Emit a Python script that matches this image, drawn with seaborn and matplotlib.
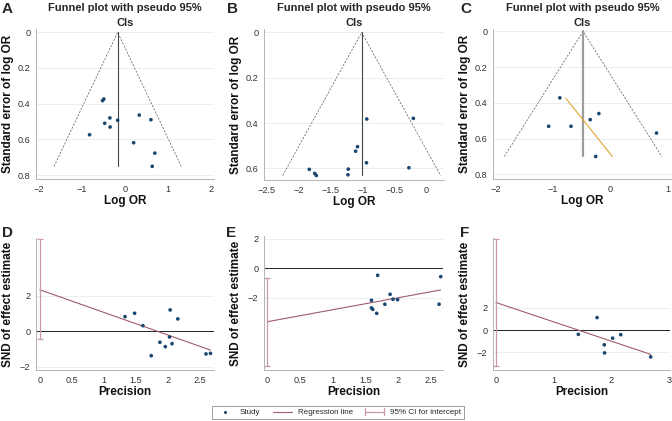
import matplotlib
matplotlib.use("Agg")
import matplotlib.pyplot as plt
import numpy as np
import seaborn as sns
from matplotlib.legend_handler import HandlerBase
from matplotlib.lines import Line2D
from matplotlib.ticker import FuncFormatter

# ---- data ----
# Funnel plots (log OR vs standard error)
a_log_or = [-0.52, -0.49, -0.35, -0.47, -0.345, -0.17, -0.82, 0.33, 0.60, 0.20, 0.69, 0.63]
a_se = [0.383, 0.374, 0.480, 0.510, 0.531, 0.493, 0.574, 0.464, 0.490, 0.619, 0.677, 0.751]
a_pooled = -0.17

b_log_or = [-0.20, -0.93, -1.075, -1.105, -0.935, -1.22, -0.27, -1.83, -1.745, -1.72, -1.225]
b_se = [0.379, 0.382, 0.504, 0.524, 0.575, 0.603, 0.597, 0.604, 0.622, 0.631, 0.628]
b_pooled = -1.01

c_log_or = [-0.885, -0.205, -0.355, -1.08, -0.69, -0.26, 0.80]
c_se = [0.372, 0.460, 0.494, 0.531, 0.531, 0.700, 0.569]
c_pooled = -0.48
c_trend_log_or = [-0.78, 0.03]
c_trend_se = [0.375, 0.70]

# Egger plots (precision vs standardised effect)
d_prec = [1.33, 1.48, 1.61, 1.74, 1.875, 1.96, 2.035, 2.025, 2.065, 2.155, 2.595, 2.665]
d_snd = [0.83, 1.02, 0.32, -1.38, -0.62, -0.87, 1.21, -0.32, -0.70, 0.70, -1.28, -1.25]
d_fit = (2.35, -1.28)
d_ci = (-0.45, 5.20)

e_prec = [1.69, 2.655, 1.88, 1.595, 1.925, 1.995, 1.80, 1.595, 1.615, 1.675, 2.63]
e_snd = [-0.48, -0.57, -1.77, -2.18, -2.11, -2.14, -2.45, -2.70, -2.80, -3.07, -2.45]
e_fit = (-3.64, 0.815)
e_ci = (-6.66, -0.68)

f_prec = [1.43, 1.755, 1.88, 1.885, 2.025, 2.165, 2.685]
f_snd = [-0.39, 1.12, -1.33, -2.06, -0.73, -0.42, -2.42]
f_fit = (2.48, -1.74)
f_ci = (-3.27, 8.24)

NAVY = "#1a476f"
REG = "#a05c6c"
CI = "#c99aa4"
AXC = "#b4b4b4"

sns.set_theme(style="white")
plt.rcParams["font.family"] = ["Liberation Sans", "DejaVu Sans"]

W, H = 672, 421
fig = plt.figure(figsize=(W / 100, H / 100), dpi=100)


def px_axes(left, top, right, bottom):
    return fig.add_axes([left / W, 1 - bottom / H, (right - left) / W, (bottom - top) / H])


fmt = FuncFormatter(lambda v, _: f"{v:g}".replace("-", "\u2212"))


def style(ax, xticks, yticks, xlim, ylim, xlabel, ylabel, width, height):
    ax.set_xlim(*xlim)
    ax.set_ylim(*ylim)
    ax.set_xticks(xticks)
    ax.set_yticks(yticks)
    ax.xaxis.set_major_formatter(fmt)
    ax.yaxis.set_major_formatter(fmt)
    for s in ["top", "right"]:
        ax.spines[s].set_visible(False)
    for s in ["left", "bottom"]:
        ax.spines[s].set_color(AXC)
        ax.spines[s].set_linewidth(0.7)
    ax.tick_params(direction="out", length=2.5, width=0.6, color=AXC,
                   labelsize=6.6, labelcolor="#333333", pad=1.5)
    ax.yaxis.grid(True, color="#e4edef", lw=0.6)
    ax.set_axisbelow(True)
    ax.set_xlabel(xlabel, fontsize=8.5, fontweight="bold", color="#111111")
    ax.set_ylabel(ylabel, fontsize=8.5, fontweight="bold", color="#111111")
    ax.xaxis.label.set_va("center")
    ax.yaxis.label.set_va("center")
    ax.xaxis.set_label_coords(0.5, -22 / height)
    ax.yaxis.set_label_coords(-28 / width, 0.5)


def funnel(ax, log_or, se, pooled, center_color="#444444", center_lw=0.8):
    se_max = max(se)
    lo = pooled - 1.96 * se_max
    hi = pooled + 1.96 * se_max
    ax.plot([lo, pooled, hi], [se_max, 0, se_max], ls=(0, (3, 2)), lw=0.5, color="#555555")
    ax.plot([pooled, pooled], [0, se_max], color=center_color, lw=center_lw)
    sns.scatterplot(x=log_or, y=se, ax=ax, color=NAVY, s=7, edgecolor="none", linewidth=0,
                    legend=False, zorder=3)
    ax.text(0.5, 1 + 13.5 / 150, "Funnel plot with pseudo 95%\nCIs", transform=ax.transAxes,
            ha="center", va="center", fontsize=8, fontweight="bold", linespacing=1.6)


def egger(ax, prec, snd, fit, ci):
    ax.axhline(0, color="#222222", lw=0.7, zorder=1)
    xs = np.array([0, max(prec)])
    ax.plot(xs, fit[0] + fit[1] * xs, color=REG, lw=0.8, zorder=2)
    mid = (ci[0] + ci[1]) / 2
    ax.errorbar([0], [mid], yerr=[[mid - ci[0]], [ci[1] - mid]], fmt="none",
                ecolor=CI, elinewidth=0.9, capsize=2.2, capthick=0.9, zorder=2)
    sns.scatterplot(x=prec, y=snd, ax=ax, color=NAVY, s=7, edgecolor="none", linewidth=0,
                    legend=False, zorder=3)


# ---- top row: funnel plots ----
ax_a = px_axes(36, 29, 214, 179)
funnel(ax_a, a_log_or, a_se, a_pooled)
style(ax_a, [-2, -1, 0, 1, 2], [0, 0.2, 0.4, 0.6, 0.8], (-2.06, 2.06), (0.822, -0.018),
      "Log OR", "Standard error of log OR", 178, 150)

ax_b = px_axes(264, 29, 444, 180)
funnel(ax_b, b_log_or, b_se, b_pooled)
style(ax_b, [-2.5, -2, -1.5, -1, -0.5, 0], [0, 0.2, 0.4, 0.6], (-2.54, 0.28), (0.651, -0.015),
      "Log OR", "Standard error of log OR", 180, 151)

ax_c = px_axes(493, 29, 672, 179)
funnel(ax_c, c_log_or, c_se, c_pooled, center_color="#9c9c9c", center_lw=1.6)
ax_c.plot(c_trend_log_or, c_trend_se, color="#e0a636", lw=0.8, zorder=2)
style(ax_c, [-2, -1, 0, 1], [0, 0.2, 0.4, 0.6, 0.8], (-2.05, 1.07), (0.826, -0.013),
      "Log OR", "Standard error of log OR", 179, 150)

# ---- bottom row: Egger plots ----
ax_d = px_axes(36, 238, 214, 370)
egger(ax_d, d_prec, d_snd, d_fit, d_ci)
style(ax_d, [0, 0.5, 1, 1.5, 2, 2.5], [-2, 0, 2], (-0.06, 2.72), (-2.19, 5.28),
      "Precision", "SND of effect estimate", 178, 132)

ax_e = px_axes(264, 236, 443, 370)
egger(ax_e, e_prec, e_snd, e_fit, e_ci)
style(ax_e, [0, 0.5, 1, 1.5, 2, 2.5], [-2, 0, 2], (-0.05, 2.69), (-6.93, 2.2),
      "Precision", "SND of effect estimate", 179, 134)

ax_f = px_axes(493, 238, 670, 370)
egger(ax_f, f_prec, f_snd, f_fit, f_ci)
style(ax_f, [0, 1, 2, 3], [-2, 0, 2], (-0.05, 3.02), (-3.6, 8.29),
      "Precision", "SND of effect estimate", 177, 132)

# panel letters
for letter, x, y in [("A", 2, 13), ("B", 227, 13), ("C", 460, 13),
                     ("D", 2, 237), ("E", 226, 237), ("F", 460, 237)]:
    fig.text(x / W, 1 - y / H, letter, fontsize=11, fontweight="bold", va="baseline", ha="left")


# legend
class HandlerCI(HandlerBase):
    def create_artists(self, legend, orig_handle, xdescent, ydescent, width, height,
                       fontsize, trans):
        y = height / 2 - ydescent
        c = orig_handle.get_color()
        lw = orig_handle.get_linewidth()
        bar = Line2D([-xdescent, width - xdescent], [y, y], color=c, lw=lw, transform=trans)
        cap1 = Line2D([-xdescent] * 2, [y - 2.5, y + 2.5], color=c, lw=lw, transform=trans)
        cap2 = Line2D([width - xdescent] * 2, [y - 2.5, y + 2.5], color=c, lw=lw, transform=trans)
        return [bar, cap1, cap2]


h_study = Line2D([], [], marker="o", ls="none", color=NAVY, markersize=2.2, markeredgewidth=0)
h_reg = Line2D([], [], color=REG, lw=0.8)
h_ci = Line2D([], [], color=CI, lw=0.9)
leg = fig.legend([h_study, h_reg, h_ci], ["Study", "Regression line", "95% CI for intercept"],
                 loc="center", bbox_to_anchor=(338 / W, 1 - 412.5 / H), ncol=3,
                 fontsize=5.8, frameon=True, fancybox=False, edgecolor="#555555",
                 borderpad=0.35, handlelength=2.4, handletextpad=0.7, columnspacing=1.5,
                 handler_map={h_ci: HandlerCI()})
leg.get_frame().set_linewidth(0.5)

fig.savefig("out.png", dpi=100)
